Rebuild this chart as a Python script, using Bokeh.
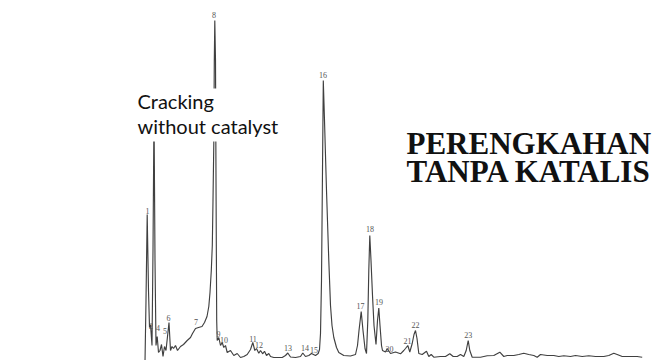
from bokeh.plotting import figure
from bokeh.models import Range1d, Label, ColumnDataSource, BoxAnnotation
from bokeh.core.properties import value
from bokeh.embed import file_html
from bokeh.resources import INLINE

# Retention position (arbitrary units along the trace) and detector signal
rt = [144.5, 145.5, 146.7, 148, 149, 150, 151.5, 152.5, 153.5, 154.5, 155.5, 156.7, 158, 159.5,
      161, 162.5, 164, 165.5, 168.5, 170, 171.5, 173, 175, 177, 180, 183, 186.7, 190, 192, 195,
      198, 201.5, 204, 206.5, 208.3, 209.5, 210.8, 211.8, 212.5, 213.3, 213.8, 214.3, 215, 215.6,
      216.2, 216.7, 218.3, 220, 221.7, 223.3, 225, 226.7, 230, 233.3, 236.7, 240, 243.3, 246.7,
      250, 252.3, 254.3, 256, 258.3, 260, 262.3, 264, 266, 268.3, 270, 273.3, 278.3, 281.7, 285,
      287.3, 290, 295, 300, 302.3, 305, 308.3, 311, 315, 317.7, 319, 320, 321, 322, 322.8, 324,
      326, 328.3, 330, 331.5, 333.3, 336, 338.3, 343.3, 350, 355, 357, 358.5, 360.7, 362.5, 364.5,
      366, 367.3, 368.3, 369.3, 370.5, 372, 373.5, 375.5, 377, 378.3, 379.5, 381, 382, 385, 386.7,
      390, 395, 400, 403.3, 405, 407.3, 409.3, 411.7, 413.5, 415, 416.5, 418.3, 421.7, 426, 428.3,
      430.7, 433.3, 440, 445, 449.3, 452.7, 456.7, 460, 463.3, 465.7, 467.7, 469.3, 471.7, 480,
      486.7, 493.3, 499.3, 503.3, 506.7, 513.3, 518.3, 523.3, 528.3, 533.3, 536.7, 540, 546.7,
      553.3, 558.3, 563.3, 570, 575, 581.7, 588.3, 595, 603.3, 608.3, 613.3, 616.7, 621.7, 630,
      636.7, 641.7]
signal = [-2, 60, 146, 70, 33, 36, 15, 110, 250, 100, 15, 24, 8, 10,
          16, 4, 14, 10, 38, 10, 14, 12, 15, 10, 14, 16, 20, 23, 27, 32,
          33, 34, 38, 44, 54, 68, 90, 115, 160, 217, 300, 340, 300, 160,
          40, 20, 23, 15, 18, 13, 15, 8, 10, 5, 7, 3, 4, 6,
          11, 18, 10, 12, 7.3, 10, 6.7, 9.3, 5, 7, 4, 3, 3, 3, 5,
          7.5, 3.5, 3, 4, 7.5, 4, 5, 7, 5, 7, 11, 27, 80, 190, 280, 240,
          170, 100, 55, 35, 23, 13, 8, 5, 4.5, 6, 15, 30, 49, 30, 12,
          7, 40, 90, 125, 100, 65, 35, 16, 40, 52.5, 35, 15, 10, 8.5, 12,
          7, 8.5, 6.7, 10, 12, 15, 8.5, 17, 26, 30, 22, 7, 6, 9.3, 4,
          6, 3.3, 4, 4, 6.7, 4, 4, 6, 4, 10, 20, 10, 3.3, 3.3,
          4.7, 5, 8.3, 4, 5, 5, 6, 7.3, 6, 5, 3.3, 6, 5,
          5, 4, 4.7, 4, 5, 4, 4.7, 4, 4, 5, 7.3, 6, 4, 4,
          4, 3.3]

# Peak numbers and where their tags sit
peak_ids = ["1", "2", "4", "5", "6", "7", "8", "9", "10", "11", "12", "13", "14", "15",
            "16", "17", "18", "19", "20", "21", "22", "23"]
peak_rt = [147, 150.5, 157.5, 164.5, 168, 195.5, 213.5, 218, 223.5, 252.5, 258.5, 287.5,
           304.5, 313.5, 322.5, 360, 369.5, 378.5, 389, 407, 415, 467.7]
peak_tag = [150, 35, 33, 30, 43, 39, 346, 27, 21, 22, 16, 13, 13, 11, 286, 55, 132, 59,
            12, 20, 36, 26]

title_lines = "PERENGKAHAN\nTANPA KATALIS"
note_text = "Cracking\nwithout catalyst"

p = figure(width=663, height=360, output_backend="svg", toolbar_location=None,
           x_range=Range1d(0, 663), y_range=Range1d(0, 360), min_border=0)
p.axis.visible = False
p.grid.visible = False
p.outline_line_color = None
p.background_fill_color = "white"
p.border_fill_color = "white"

p.line(rt, signal, line_color="#404040", line_width=1.15)

src = ColumnDataSource(dict(x=peak_rt, y=peak_tag, t=peak_ids))
p.text("x", "y", text="t", source=src, text_font=value("Liberation Serif"),
       text_font_size="8px", text_color="#555555", text_align="center",
       text_baseline="middle")

# white panel behind the English note (hides the trace there, as in the original)
mask = BoxAnnotation(left=135, right=282, top=272, bottom=219, fill_color="white",
                     fill_alpha=1.0, line_color=None)
p.add_layout(mask)

note = Label(x=137, y=272, text=note_text, text_font="Lato", text_font_size="20px",
             text_color="#111111", text_align="left", text_baseline="top",
             text_line_height=1.06)
p.add_layout(note)

title = Label(x=406, y=235, text=title_lines, text_font="Liberation Serif",
              text_font_style="bold", text_font_size="31px", text_color="#111111",
              text_align="left", text_baseline="top", text_line_height=0.82)
p.add_layout(title)

open("out.html", "w").write(file_html(p, INLINE))
